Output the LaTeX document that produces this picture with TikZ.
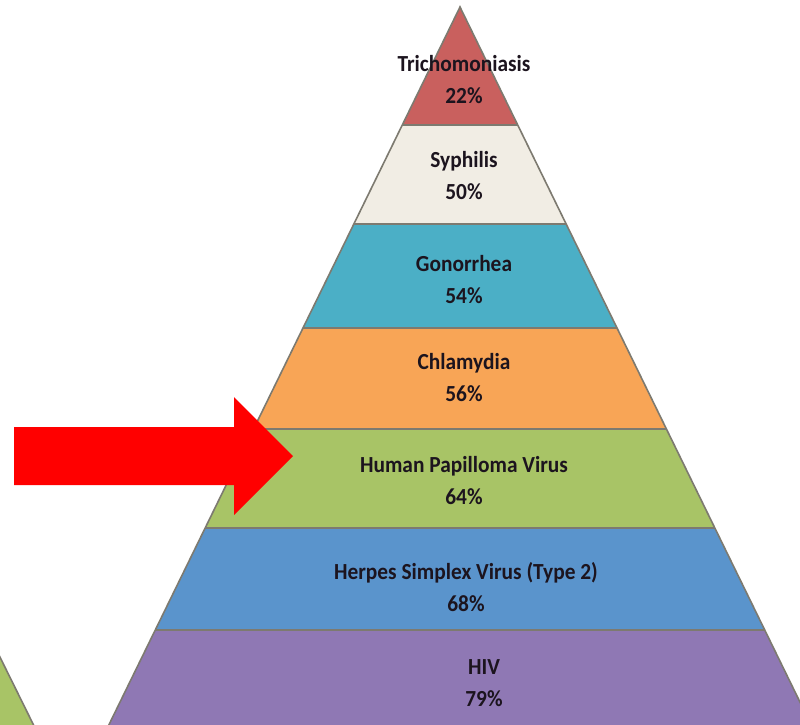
\documentclass[tikz,border=0pt]{standalone}
\usepackage{fontspec}
\setmainfont{Carlito}[FakeStretch=0.93]
\usetikzlibrary{positioning}
\definecolor{trichred}{RGB}{201,96,94}
\definecolor{syphcream}{RGB}{241,237,228}
\definecolor{gonoteal}{RGB}{75,175,198}
\definecolor{chlamorange}{RGB}{248,165,86}
\definecolor{hpvgreen}{RGB}{168,196,102}
\definecolor{herpesblue}{RGB}{90,148,204}
\definecolor{hivpurple}{RGB}{143,120,180}
\definecolor{edgegray}{RGB}{125,122,112}
\definecolor{txtdark}{RGB}{28,20,30}
\definecolor{arrowred}{RGB}{255,0,0}

\begin{document}
\begin{tikzpicture}[x=1pt, y=-1pt,
  lbl/.style={font=\fontsize{23}{32}\selectfont\bfseries, align=center, text=txtdark, inner sep=0pt},
  sep/.style={draw=edgegray, line width=1.6pt}]
\useasboundingbox[fill=white] (0,0) rectangle (800,724);
% Neighbouring pyramid (cut off)
\filldraw[fill=hpvgreen, sep] (-6,645) -- (40,738) -- (-6,738) -- cycle;
% Pyramid corners
\coordinate (apex) at (460,7);
\coordinate (bl) at (100,743);
\coordinate (br) at (820,743);
% Bands
\begin{scope}
\clip (apex) -- (bl) -- (br) -- cycle;
\fill[trichred] (0,0) rectangle (820,125);
\fill[syphcream] (0,125) rectangle (820,224);
\fill[gonoteal] (0,224) rectangle (820,328);
\fill[chlamorange] (0,328) rectangle (820,429);
\fill[hpvgreen] (0,429) rectangle (820,528);
\fill[herpesblue] (0,528) rectangle (820,630);
\fill[hivpurple] (0,630) rectangle (820,743);
\draw[sep] (0,125) -- (820,125) (0,224) -- (820,224) (0,328) -- (820,328)
  (0,429) -- (820,429) (0,528) -- (820,528) (0,630) -- (820,630);
\end{scope}
\draw[sep] (bl) -- (apex) -- (br);
% Labels
\node[lbl] (trich) at (464,80) {Trichomoniasis\\22\%};
\node[lbl] (syph) at (464,176) {Syphilis\\50\%};
\node[lbl] (gono) at (464,280) {Gonorrhea\\54\%};
\node[lbl] (chlam) at (464,378) {Chlamydia\\56\%};
\node[lbl] (hpv) at (464,481) {Human Papilloma Virus\\64\%};
\node[lbl] (herpes) at (466,587) {Herpes Simplex Virus (Type 2)\\68\%};
\node[lbl] (hiv) at (484,683) {HIV\\79\%};
% Red arrow
\fill[arrowred] (14,427) -- (234,427) -- (234,397) -- (293,456) -- (234,515)
  -- (234,485) -- (14,485) -- cycle;
\end{tikzpicture}
\end{document}
